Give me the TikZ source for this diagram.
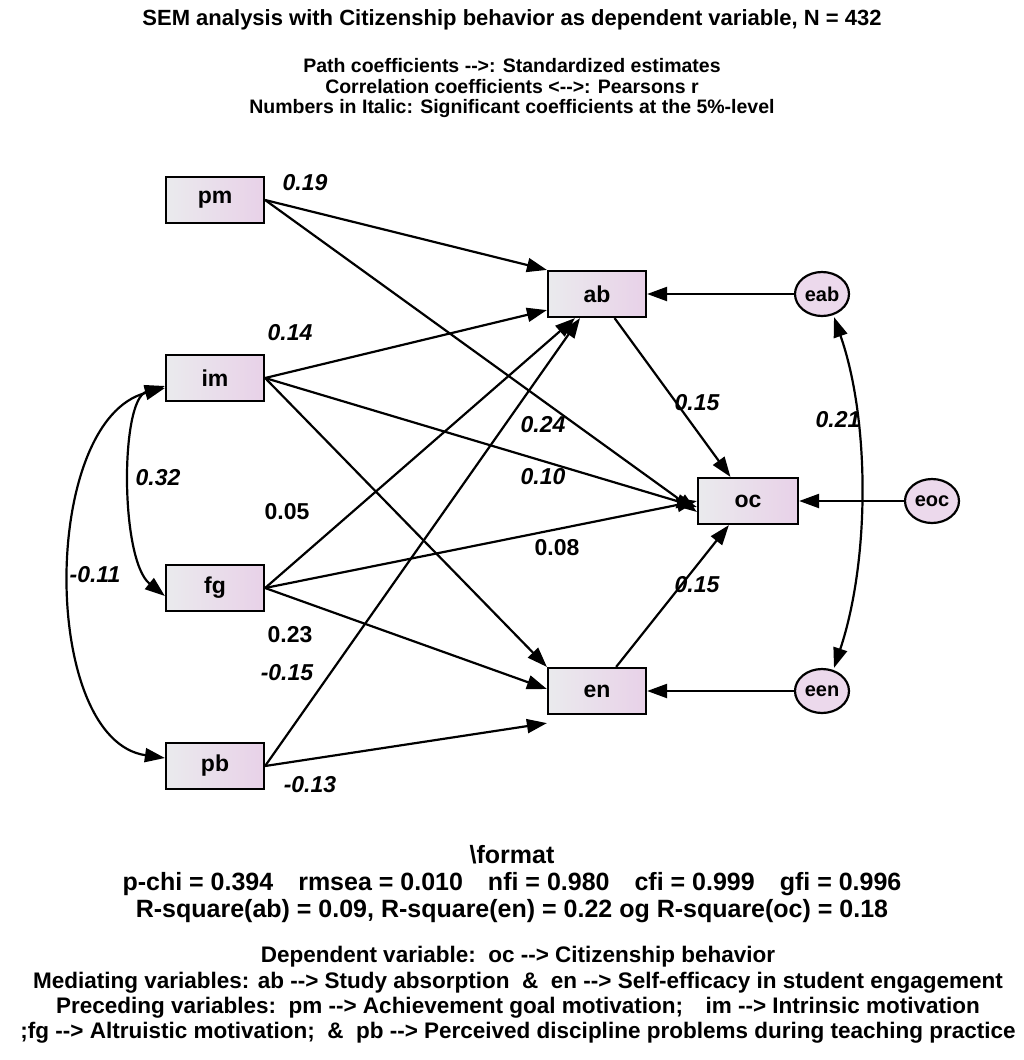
\documentclass[tikz,border=0pt]{standalone}
\usepackage{fontspec}
\setmainfont{Liberation Sans}
\usetikzlibrary{arrows.meta, shapes.geometric}

\begin{document}
\begin{tikzpicture}[x=1pt, y=-1pt]
    \tikzstyle{obs} = [rectangle, draw, line width=2.2pt, left color=blue!8!gray!15, right color=violet!18, minimum width=98pt, minimum height=46pt, font=\fontsize{23}{26}\selectfont\bfseries]
    \tikzstyle{err} = [ellipse, draw, line width=2.2pt, fill=violet!15, minimum width=54pt, minimum height=44pt, inner sep=0pt, font=\fontsize{20}{23}\selectfont\bfseries]
    \tikzstyle{arrow} = [-{Triangle[length=20pt,width=14pt]}, line width=2.2pt]
    \tikzstyle{cor} = [{Triangle[length=20pt,width=14pt]}-{Triangle[length=20pt,width=14pt]}, line width=2.2pt]
    \tikzstyle{coef} = [font=\fontsize{23}{26}\selectfont\bfseries\itshape]
    \tikzstyle{coefup} = [font=\fontsize{23}{26}\selectfont\bfseries]
    \tikzstyle{txt} = [align=center]
    \useasboundingbox (0,0) rectangle (1024,1060);
    % observed variables
    \node (pm) [obs] at (215,200) {pm};
    \node (im) [obs] at (215,378) {im};
    \node (fg) [obs] at (215,588) {fg};
    \node (pb) [obs] at (215,766) {pb};
    \node (ab) [obs] at (597,294) {ab};
    \node (oc) [obs, minimum width=100pt] at (748,501) {oc};
    \node (en) [obs] at (597,691) {en};
    % residuals
    \node (eab) [err] at (822,294) {eab};
    \node (eoc) [err] at (932,501) {eoc};
    \node (een) [err] at (822,691) {een};
    % paths
    \draw [arrow] (pm.east) -- (ab.north west);
    \draw [arrow] (pm.east) -- ([yshift=-11pt]oc.west);
    \draw [arrow] (im.east) -- ([yshift=8pt]ab.south west);
    \draw [arrow] (im.east) -- ([yshift=-6pt]oc.west);
    \draw [arrow] (im.east) -- (en.north west);
    \draw [arrow] (fg.east) -- ([xshift=-22pt]ab.south);
    \draw [arrow] (fg.east) -- (oc.west);
    \draw [arrow] (fg.east) -- ([yshift=2pt]en.west);
    \draw [arrow] (pb.east) -- ([xshift=-17pt]ab.south);
    \draw [arrow] (pb.east) -- ([yshift=-8pt]en.south west);
    \draw [arrow] (ab) -- (oc);
    \draw [arrow] (en) -- (oc);
    \draw [arrow] (eab) -- (ab);
    \draw [arrow] (eoc) -- (oc);
    \draw [arrow] (een) -- (en);
    % correlations
    \draw [cor] ([yshift=-8pt]im.west) .. controls (120,400) and (120,560) .. ([yshift=-8pt]fg.west);
    \draw [cor] ([yshift=-10pt]im.west) .. controls (40,420) and (40,740) .. ([yshift=8pt]pb.west);
    \draw [cor] ([xshift=12pt]eab.south) .. controls (870,420) and (870,560) .. ([xshift=12pt]een.north);
    % coefficients
    \node [coef] at (305,183) {0.19};
    \node [coef] at (290,333) {0.14};
    \node [coef] at (543,425) {0.24};
    \node [coef] at (543,477) {0.10};
    \node [coefup] at (287,512) {0.05};
    \node [coefup] at (557,548) {0.08};
    \node [coefup] at (290,635) {0.23};
    \node [coef] at (287,673) {-0.15};
    \node [coef] at (310,785) {-0.13};
    \node [coef] at (697,403) {0.15};
    \node [coef] at (697,585) {0.15};
    \node [coef] at (838,420) {0.21};
    \node [coef] at (158,478) {0.32};
    \node [coef] at (95,575) {-0.11};
    % texts
    \node (title) [txt, font=\fontsize{22}{26}\selectfont\bfseries] at (512,20) {SEM analysis with Citizenship behavior as dependent variable, N = 432};
    \node (legend) [txt, font=\fontsize{19.5}{20}\selectfont\bfseries] at (512,88) {Path coefficients -{}->: Standardized estimates\\Correlation coefficients <-{}->: Pearsons r\\Numbers in Italic: Significant coefficients at the 5\%-level};
    \node (fit) [txt, font=\fontsize{25}{27}\selectfont\bfseries] at (512,884) {\textbackslash format\\p-chi = 0.394\quad rmsea = 0.010\quad nfi = 0.980\quad cfi = 0.999\quad gfi = 0.996\\R-square(ab) = 0.09, R-square(en) = 0.22 og R-square(oc) = 0.18};
    \node (vars) [txt, font=\fontsize{22.5}{25.3}\selectfont\bfseries] at (518,995) {Dependent variable:\ \ oc -{}-> Citizenship behavior\\Mediating variables: ab -{}-> Study absorption\ \ \&\ \ en -{}-> Self-efficacy in student engagement\\Preceding variables:\ \ pm -{}-> Achievement goal motivation;\quad im -{}-> Intrinsic motivation\\;fg -{}-> Altruistic motivation;\ \ \&\ \ pb -{}-> Perceived discipline problems during teaching practice};
\end{tikzpicture}
\end{document}
